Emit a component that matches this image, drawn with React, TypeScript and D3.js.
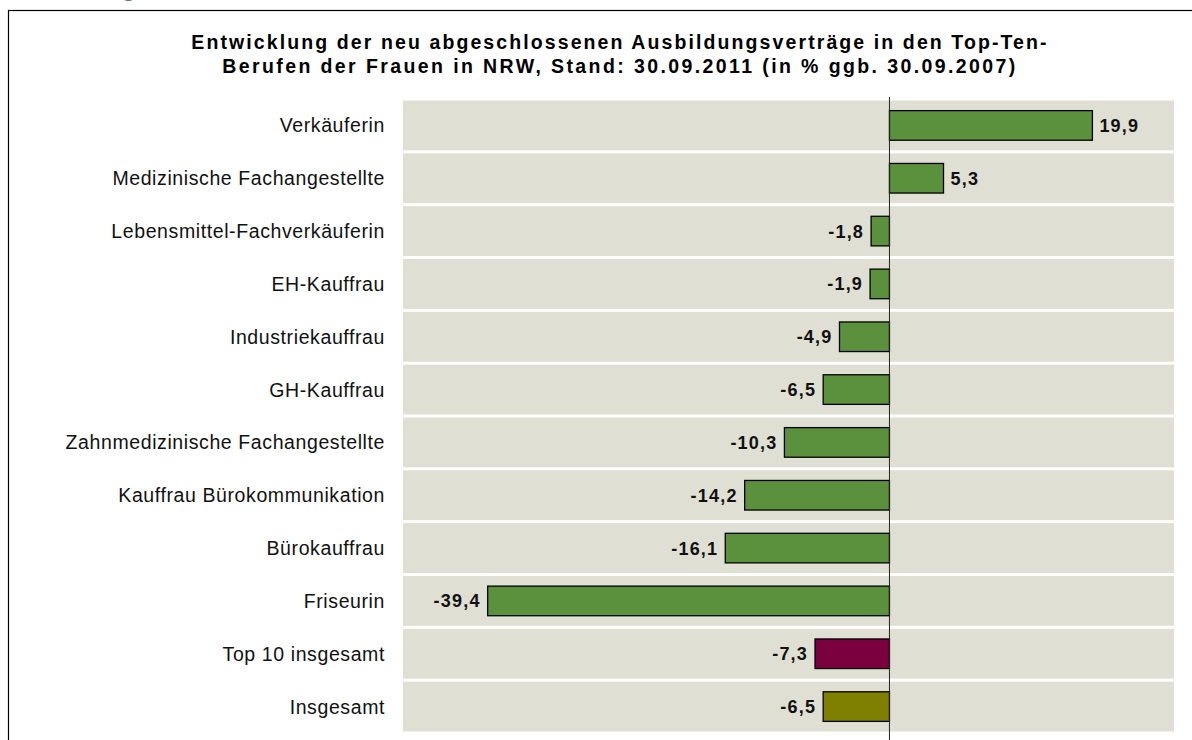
import React from "react";
import * as d3 from "d3";

const categories = [
  "Verkäuferin",
  "Medizinische Fachangestellte",
  "Lebensmittel-Fachverkäuferin",
  "EH-Kauffrau",
  "Industriekauffrau",
  "GH-Kauffrau",
  "Zahnmedizinische Fachangestellte",
  "Kauffrau Bürokommunikation",
  "Bürokauffrau",
  "Friseurin",
  "Top 10 insgesamt",
  "Insgesamt",
];
const values = [19.9, 5.3, -1.8, -1.9, -4.9, -6.5, -10.3, -14.2, -16.1, -39.4, -7.3, -6.5];
const groups = ["beruf", "beruf", "beruf", "beruf", "beruf", "beruf", "beruf", "beruf", "beruf", "beruf", "top10", "gesamt"];
const titleLines = [
  "Entwicklung der neu abgeschlossenen Ausbildungsverträge in den Top-Ten-",
  "Berufen der Frauen in NRW, Stand: 30.09.2011 (in % ggb. 30.09.2007)",
];
const xDomain = [-47.7, 27.9];

const colorMap: Record<string, string> = {
  beruf: "#5b903c",
  top10: "#7b0040",
  gesamt: "#808000",
};

const W = 1192;
const H = 740;
const plot = { left: 403, right: 1174, top: 100, bottom: 734 };
const font = "'Liberation Sans', Arial, sans-serif";
const fmt = (v: number) => v.toFixed(1).replace(".", ",");
const titleSpacing = [2.1, 2.4];

export default function App() {
  const x = d3.scaleLinear().domain(xDomain).range([plot.left, plot.right]);
  const y = d3
    .scaleBand<string>()
    .domain(categories)
    .range([plot.top, plot.bottom])
    .paddingInner(0)
    .paddingOuter(0);
  const bw = y.bandwidth();
  const barH = bw * 0.56;
  const x0 = x(0);

  return (
    <svg
      width={W}
      height={H}
      style={{ position: "fixed", left: 0, top: 0, background: "#fff" }}
      fontFamily={font}
    >
      <rect x={0} y={0} width={W} height={H} fill="#fff" />
      <text x={122} y={-4} fontSize={22} fontWeight="bold" fill="#6a7a70">
        g
      </text>
      <rect x={8.5} y={10.5} width={1400} height={1000} fill="none" stroke="#000" strokeWidth={1.2} />
      {titleLines.map((t, i) => (
        <text
          key={i}
          x={620}
          y={49 + i * 24}
          textAnchor="middle"
          fontSize={19.5}
          fontWeight="bold"
          letterSpacing={titleSpacing[i]}
          fill="#000"
        >
          {t}
        </text>
      ))}
      {categories.map((c) => (
        <rect
          key={"band" + c}
          x={plot.left}
          y={(y(c) as number) + 0.5}
          width={plot.right - plot.left}
          height={bw - 3}
          fill="#dfdfd3"
        />
      ))}
      {categories.map((c, i) => {
        const v = values[i];
        const yc = (y(c) as number) + bw / 2 - 1;
        const xa = Math.min(x(v), x0);
        const xb = Math.max(x(v), x0);
        return (
          <g key={c}>
            <rect
              x={xa}
              y={yc - barH / 2}
              width={xb - xa}
              height={barH}
              fill={colorMap[groups[i]]}
              stroke="#000"
              strokeWidth={1.3}
            />
            <text
              x={v >= 0 ? x(v) + 7 : x(v) - 7}
              y={yc}
              dy="0.36em"
              textAnchor={v >= 0 ? "start" : "end"}
              fontSize={18}
              fontWeight="bold"
              letterSpacing={1.2}
              fill="#111"
            >
              {fmt(v)}
            </text>
            <text
              x={385}
              y={yc}
              dy="0.36em"
              textAnchor="end"
              fontSize={19.5}
              letterSpacing={0.6}
              fill="#111"
            >
              {c}
            </text>
          </g>
        );
      })}
      <line x1={x0} x2={x0} y1={97} y2={H} stroke="#222" strokeWidth={1} />
    </svg>
  );
}
